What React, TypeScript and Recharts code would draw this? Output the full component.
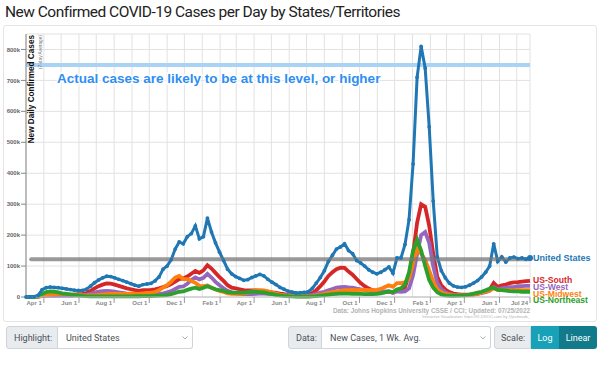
import { CartesianGrid, Line, LineChart, ReferenceLine, XAxis, YAxis } from "recharts"

// one point a week, counted in days since Mar 1, 2020, up to Jul 24, 2022
const days = Array.from({ length: 126 }, (_, i) => i * 7)

// 7-day average of new cases, in thousands
const unitedStates = [
  0.05, 0.1, 0.6, 5, 24, 30, 32, 31, 30, 28,
  26, 24, 22, 21, 21, 25, 35, 46, 55, 62,
  67, 66, 62, 57, 53, 48, 43, 38, 35, 40,
  42, 44, 52, 65, 90, 100, 120, 155, 178, 172,
  195, 205, 230, 188, 195, 255, 210, 175, 145, 118,
  90, 75, 66, 60, 54, 56, 63, 68, 73, 68,
  57, 48, 40, 31, 25, 19, 16, 13, 14, 15,
  17, 28, 45, 63, 85, 115, 135, 155, 162, 172,
  150, 140, 118, 110, 100, 88, 80, 75, 80, 88,
  97, 77, 126, 126, 170, 250, 430, 710, 810, 740,
  550, 310, 130, 85, 62, 45, 36, 32, 31, 33,
  38, 45, 53, 65, 80, 100, 172, 115, 130, 113,
  126, 129, 124, 126, 122, 126,
]
const south = [
  0, 0.02, 0.1, 1, 4, 6, 6.5, 6.5, 7, 7,
  7, 7.5, 8, 9, 10, 13, 20, 28, 35, 40,
  44, 43, 40, 36, 32, 28, 25, 22, 20, 22,
  22, 23, 25, 28, 32, 36, 42, 50, 58, 60,
  66, 75, 84, 78, 86, 103, 92, 78, 64, 52,
  38, 30, 28, 25, 22, 21, 21, 21, 20, 19,
  17, 15, 13, 11, 9, 7, 6, 5, 5, 6,
  7, 13, 22, 35, 50, 68, 80, 90, 95, 94,
  82, 72, 58, 45, 35, 27, 22, 19, 17, 17,
  17, 14, 22, 24, 32, 70, 140, 240, 300, 292,
  230, 140, 65, 38, 24, 16, 11, 9, 8, 8,
  8, 9, 11, 14, 18, 24, 45, 33, 38, 40,
  45, 47, 48, 50, 51, 52,
]
const west = [
  0, 0.05, 0.2, 1, 3, 4, 4, 4, 4, 4,
  4, 4, 4.5, 5, 5.5, 7, 10, 14, 17, 19,
  20, 19, 17, 15, 13, 11, 10, 9, 8, 8,
  8, 8, 9, 10, 12, 15, 19, 26, 33, 34,
  43, 55, 63, 57, 62, 75, 63, 49, 38, 28,
  20, 15, 12, 10, 9, 9, 9.5, 10, 11, 11,
  10, 9, 8, 7, 6, 5, 4.5, 4, 4, 4.5,
  5, 7, 10, 14, 17, 22, 26, 30, 32, 33,
  31, 30, 27, 25, 22, 20, 18, 17, 17, 17,
  18, 14, 18, 17, 18, 28, 70, 140, 200, 210,
  175, 100, 45, 25, 15, 10, 7, 6, 6, 6,
  7, 8, 10, 13, 16, 20, 32, 25, 28, 30,
  32, 32, 35, 35, 36, 36,
]
const midwest = [
  0, 0.03, 0.1, 1, 4, 7, 8, 9, 10, 10,
  9, 8.5, 8, 7, 6, 5.5, 5.5, 6, 7, 8.5,
  9.5, 10, 10, 10, 10, 10, 10.5, 11, 10, 12,
  13, 14, 16, 22, 30, 38, 50, 63, 68, 58,
  58, 52, 46, 36, 35, 37, 30, 24, 20, 16,
  12, 10, 10, 10, 11, 14, 18, 21, 22, 21,
  18, 15, 11, 8, 6, 4, 3, 2.5, 2, 2,
  2.2, 3, 5, 8, 10, 14, 16, 18, 20, 22,
  22, 23, 22, 23, 23, 22, 22, 23, 26, 32,
  38, 33, 45, 45, 47, 60, 110, 155, 140, 120,
  85, 50, 25, 15, 10, 8, 6, 5, 5, 5,
  6, 8, 11, 14, 18, 21, 28, 23, 22, 22,
  22, 21, 23, 22, 22, 22,
]
const northeast = [
  0, 0.05, 0.3, 3, 10, 16, 18, 17, 15, 12,
  10, 8, 6.5, 5, 3.5, 2.5, 2, 1.8, 1.7, 1.8,
  2, 2.2, 2.2, 2.2, 2.3, 2.2, 2.3, 2.5, 2.5, 2.7,
  3, 3.3, 4, 4.5, 5.5, 6.5, 9, 13, 17, 18,
  23, 27, 30, 26, 30, 35, 30, 25, 22, 20,
  16, 14, 14, 14, 14, 16, 17, 17, 16, 15,
  12, 10, 7, 5, 3.5, 2.5, 1.8, 1.5, 1.3, 1.3,
  1.5, 2, 3, 4.5, 6, 8, 9, 10, 11, 11,
  11, 10, 10, 10, 9, 9, 9, 10, 12, 15,
  18, 16, 24, 28, 40, 80, 150, 185, 150, 100,
  55, 30, 15, 8, 5, 4, 4, 4.5, 5, 6,
  8, 11, 14, 17, 22, 27, 30, 23, 22, 21,
  19, 18, 18, 17, 17, 17,
]

// first of every month, plus the last day
const gridDays = [
  31, 61, 92, 122, 153, 184, 214, 245, 275, 306, 337, 365, 396, 426, 457,
  487, 518, 549, 579, 610, 640, 671, 702, 730, 761, 791, 822, 852, 875,
]
const labelDays = [31, 92, 153, 214, 275, 337, 396, 457, 518, 579, 640, 702, 761, 822, 875]
const labelText = [
  "Apr 1", "Jun 1", "Aug 1", "Oct 1", "Dec 1", "Feb 1", "Apr 1", "Jun 1",
  "Aug 1", "Oct 1", "Dec 1", "Feb 1", "Apr 1", "Jun 1", "Jul 24",
]
const yTicks = [0, 100000, 200000, 300000, 400000, 500000, 600000, 700000, 800000]

const likelyLevel = 750000
const currentLevel = 122000

const regions = [
  { key: "south", name: "US-South", color: "#d62728", values: south, shift: -1 },
  { key: "west", name: "US-West", color: "#9467bd", values: west, shift: 1 },
  { key: "midwest", name: "US-Midwest", color: "#ff7f0e", values: midwest, shift: 4 },
  { key: "northeast", name: "US-Northeast", color: "#2ca02c", values: northeast, shift: 8 },
]

const data = days.map((day, i) => {
  const row: Record<string, number> = { day, us: unitedStates[i] * 1000 }
  regions.forEach((r) => {
    row[r.key] = r.values[i] * 1000
  })
  return row
})

const last = days.length - 1
const PLOT_BOTTOM = 297
const tickFont = "'Liberation Sans', Arial, sans-serif"

function DateTick(props: any) {
  const idx = labelDays.indexOf(props.payload.value)
  if (idx < 0) return null
  return (
    <g>
      <line x1={props.x} x2={props.x} y1={PLOT_BOTTOM} y2={PLOT_BOTTOM + 6} stroke="#999" />
      <text
        x={props.x - 2}
        y={PLOT_BOTTOM + 8}
        textAnchor="end"
        fontSize={6}
        fontWeight={600}
        fontFamily={tickFont}
        fill="#888"
      >
        {labelText[idx]}
      </text>
    </g>
  )
}

function AxisTitle(props: any) {
  const vb = props.viewBox || { x: 0, y: 34, width: 26 }
  const x = vb.x + vb.width
  const y = vb.y + 1
  return (
    <g>
      <text
        transform={`translate(${x + 8},${y}) rotate(-90)`}
        textAnchor="end"
        fontSize={8.2}
        fontWeight="bold"
        fontFamily={tickFont}
        fill="#111"
      >
        New Daily Confirmed Cases
      </text>
      <text
        transform={`translate(${x + 16},${y}) rotate(-90)`}
        textAnchor="end"
        fontSize={4.8}
        fontFamily={tickFont}
        fill="#777"
      >
        (7-day Average)
      </text>
    </g>
  )
}

function LikelyNote(props: any) {
  const vb = props.viewBox || { x: 26, y: 64 }
  return (
    <text
      x={vb.x + 31}
      y={vb.y + 18}
      fontSize={13.5}
      fontWeight="bold"
      fontFamily={tickFont}
      fill="#2e8ef2"
      stroke="#ffffff"
      strokeWidth={3}
      paintOrder="stroke"
    >
      Actual cases are likely to be at this level, or higher
    </text>
  )
}

function usDot(p: any) {
  if (p.index === last) {
    return (
      <g key={`us-${p.index}`}>
        <circle cx={p.cx} cy={p.cy} r={3} fill="#1f77b4" />
        <text
          x={p.cx + 3}
          y={p.cy}
          dy="0.35em"
          fontSize={9}
          fontWeight="bold"
          fontFamily={tickFont}
          fill="#1f77b4"
        >
          United States
        </text>
      </g>
    )
  }
  return <circle key={`us-${p.index}`} cx={p.cx} cy={p.cy} r={1.9} fill="#1f77b4" />
}

function regionDot(r: (typeof regions)[number]) {
  return (p: any) => {
    if (p.index !== last) return null
    return (
      <text
        key={`${r.key}-${p.index}`}
        x={p.cx + 3}
        y={p.cy + r.shift}
        dy="0.35em"
        fontSize={8.6}
        fontWeight="bold"
        fontFamily={tickFont}
        fill={r.color}
      >
        {r.name}
      </text>
    )
  }
}

const box: any = {
  position: "absolute",
  top: 326,
  height: 23,
  display: "flex",
  fontSize: 9,
  fontFamily: "Roboto, sans-serif",
  color: "#495057",
}
const addon: any = {
  background: "#e9ecef",
  border: "1px solid #ced4da",
  display: "flex",
  alignItems: "center",
  boxSizing: "border-box",
  paddingLeft: 7,
}
const select: any = {
  background: "#fff",
  border: "1px solid #ced4da",
  borderLeft: "none",
  display: "flex",
  alignItems: "center",
  justifyContent: "space-between",
  boxSizing: "border-box",
  paddingLeft: 8,
  paddingRight: 4,
}

function Chevron() {
  return (
    <svg width={6} height={4}>
      <path d="M0.5 0.5 L3 3 L5.5 0.5" fill="none" stroke="#999" strokeWidth={0.8} />
    </svg>
  )
}

export default function App() {
  return (
    <div
      style={{
        position: "absolute",
        left: 0,
        top: 0,
        width: 600,
        height: 386,
        background: "#fff",
        overflow: "hidden",
        fontFamily: "Roboto, sans-serif",
      }}
    >
      <div
        style={{
          position: "absolute",
          left: 5,
          top: 2,
          fontSize: 15.5,
          letterSpacing: -0.5,
          color: "#222",
          lineHeight: "20px",
          whiteSpace: "nowrap",
        }}
      >
        New Confirmed COVID-19 Cases per Day by States/Territories
      </div>
      <div
        style={{
          position: "absolute",
          left: 3,
          top: 25,
          width: 594,
          height: 297,
          border: "1px solid #e4e4e4",
          borderRadius: 3,
          boxSizing: "border-box",
        }}
      />

      <div style={{ position: "absolute", left: 0, top: 0 }}>
        <LineChart width={600} height={386} data={data} margin={{ top: 34, right: 70, bottom: 0, left: 0 }}>
          <CartesianGrid stroke="#e2e2e2" />
          <XAxis
            type="number"
            dataKey="day"
            domain={[0, 875]}
            ticks={gridDays}
            interval={0}
            tick={DateTick}
            tickLine={false}
            height={89}
            stroke="#bbb"
          />
          <YAxis
            type="number"
            domain={[0, 850000]}
            ticks={yTicks}
            interval={0}
            width={26}
            tickSize={5}
            tickMargin={1}
            stroke="#888"
            tick={{ fontSize: 6, fill: "#666", fontFamily: tickFont, fontWeight: 600 }}
            tickFormatter={(v: number) => (v === 0 ? "0" : `${v / 1000}k`)}
            label={AxisTitle}
          />
          <ReferenceLine y={likelyLevel} stroke="#a9d3f5" strokeWidth={4} label={LikelyNote} />
          {regions.map((r) => (
            <Line
              key={r.key}
              type="linear"
              dataKey={r.key}
              stroke={r.color}
              strokeWidth={3.8}
              dot={regionDot(r)}
              activeDot={false}
              isAnimationActive={false}
            />
          ))}
          <Line
            type="linear"
            dataKey="us"
            stroke="#1f77b4"
            strokeWidth={3}
            dot={usDot}
            activeDot={false}
            isAnimationActive={false}
          />
          <ReferenceLine
            segment={[
              { x: 9, y: currentLevel },
              { x: 875, y: currentLevel },
            ]}
            stroke="#777"
            strokeOpacity={0.75}
            strokeWidth={4}
            strokeLinecap="round"
          />
        </LineChart>
      </div>

      <div
        style={{
          position: "absolute",
          right: 70,
          top: 307,
          fontSize: 6.4,
          fontWeight: "bold",
          color: "#b3b3b3",
          fontFamily: tickFont,
          whiteSpace: "nowrap",
          textAlign: "right",
          lineHeight: "8px",
        }}
      >
        Data: Johns Hopkins University CSSE / CCI; Updated: 07/25/2022
        <div style={{ fontSize: 3.8, fontWeight: "normal", lineHeight: "5px" }}>
          Interactive Visualization: https://91-DIVOC.com/ by @profwade_
        </div>
      </div>

      <div style={{ ...box, left: 6 }}>
        <div style={{ ...addon, width: 52, borderRadius: "3px 0 0 3px" }}>Highlight:</div>
        <div style={{ ...select, width: 135, borderRadius: "0 3px 3px 0" }}>
          <span>United States</span>
          <Chevron />
        </div>
      </div>
      <div style={{ ...box, left: 288 }}>
        <div style={{ ...addon, width: 34, borderRadius: "3px 0 0 3px" }}>Data:</div>
        <div style={{ ...select, width: 169, borderRadius: "0 3px 3px 0" }}>
          <span>New Cases, 1 Wk. Avg.</span>
          <Chevron />
        </div>
      </div>
      <div style={{ ...box, left: 494 }}>
        <div style={{ ...addon, width: 37, borderRadius: "3px 0 0 3px", paddingLeft: 6 }}>Scale:</div>
        <div
          style={{
            width: 28,
            background: "#17a2b8",
            color: "#fff",
            display: "flex",
            alignItems: "center",
            justifyContent: "center",
          }}
        >
          Log
        </div>
        <div
          style={{
            width: 38,
            background: "#117a8b",
            color: "#fff",
            display: "flex",
            alignItems: "center",
            justifyContent: "center",
            borderRadius: "0 3px 3px 0",
          }}
        >
          Linear
        </div>
      </div>
    </div>
  )
}
